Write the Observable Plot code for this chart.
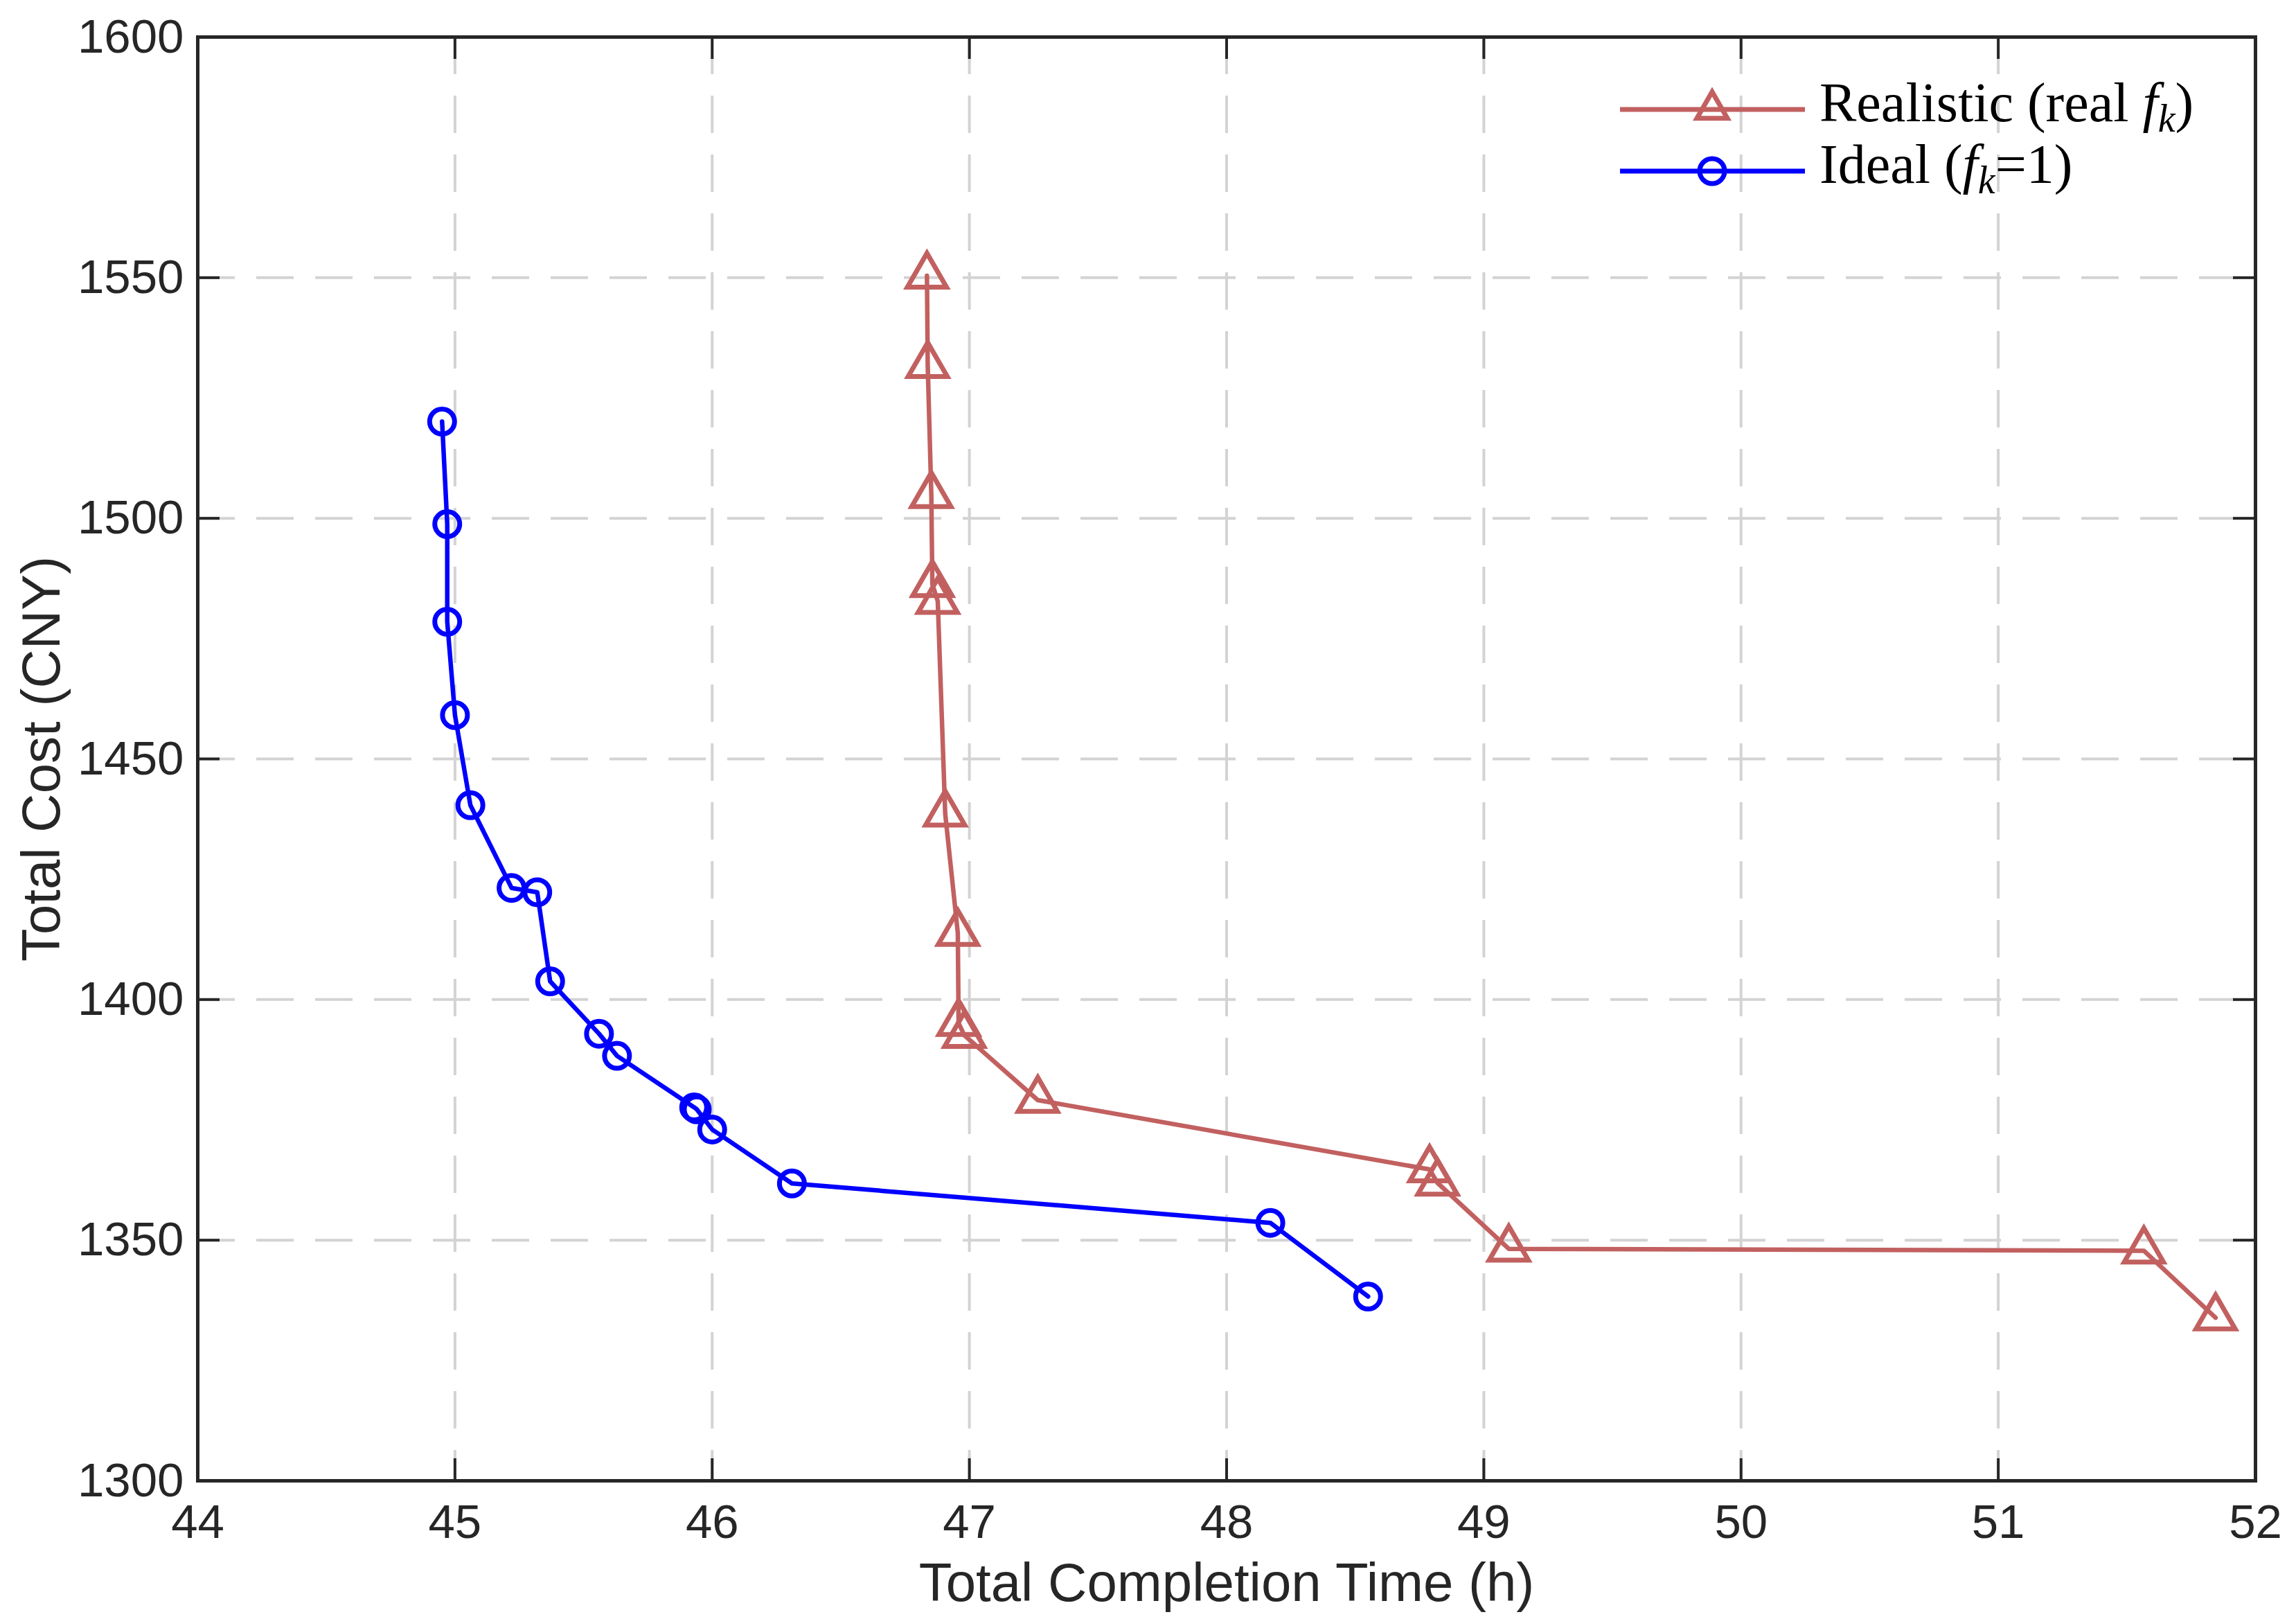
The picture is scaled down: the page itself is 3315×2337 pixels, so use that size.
<!DOCTYPE html>
<html>
<head>
<meta charset="utf-8">
<script src="https://cdn.jsdelivr.net/npm/d3@7"></script>
<script src="https://cdn.jsdelivr.net/npm/@observablehq/plot@0.6"></script>
<style>
  html, body { margin: 0; padding: 0; background: #fff; }
  #wrap { position: relative; width: 3315px; height: 2337px; background: #fff; }
  #legend { position: absolute; left: 0; top: 0; pointer-events: none; }
</style>
</head>
<body>
<div id="wrap"></div>
<script>
// ---- data ----
const realisticTime = [46.835, 46.838, 46.852, 46.856, 46.877, 46.906, 46.955, 46.958, 46.980, 47.266, 48.789, 48.820, 49.097, 51.566, 51.845];
const realisticCost = [1550.4, 1531.8, 1504.8, 1486.3, 1482.8, 1438.6, 1413.8, 1395.1, 1392.6, 1379.1, 1364.7, 1361.9, 1348.2, 1347.8, 1333.9];

const idealTime = [44.95, 44.97, 44.97, 45.00, 45.06, 45.22, 45.32, 45.37, 45.56, 45.63, 45.93, 45.94, 46.00, 46.31, 48.17, 48.55];
const idealCost = [1520.1, 1498.8, 1478.5, 1459.1, 1440.4, 1423.2, 1422.3, 1403.8, 1392.9, 1388.3, 1377.6, 1377.2, 1373.0, 1361.8, 1353.6, 1338.3];

const xTicks = [44, 45, 46, 47, 48, 49, 50, 51, 52];
const yTicks = [1300, 1350, 1400, 1450, 1500, 1550, 1600];
const xTitle = "Total Completion Time (h)";
const yTitle = "Total Cost (CNY)";

// ---- layout / style ----
const W = 3315, H = 2337;
const mL = 285, mR = 59, mT = 53, mB = 200;
const pw = W - mL - mR, ph = H - mT - mB;
const RED = "#C26060", BLUE = "#0000FF", INK = "#262626", GRID = "#d3d3d3";
const TICK = 32;

const realistic = realisticTime.map((t, i) => ({t, c: realisticCost[i]}));
const ideal = idealTime.map((t, i) => ({t, c: idealCost[i]}));

const gridStyle = {stroke: GRID, strokeOpacity: 1, strokeWidth: 4, strokeDasharray: "54,31"};
const tickStyle = {stroke: INK, strokeWidth: 4};

const chart = Plot.plot({
  width: W, height: H,
  marginLeft: mL, marginRight: mR, marginTop: mT, marginBottom: mB,
  style: {fontFamily: "'Liberation Sans', Arial, sans-serif", background: "white", color: INK},
  x: {domain: [44, 52]},
  y: {domain: [1300, 1600]},
  marks: [
    Plot.gridX({ticks: xTicks, ...gridStyle}),
    Plot.gridY({ticks: yTicks, ...gridStyle}),
    Plot.line(realistic, {x: "t", y: "c", stroke: RED, strokeWidth: 6.5, strokeLinejoin: "round"}),
    Plot.dot(realistic, {x: "t", y: "c", symbol: "triangle", r: 21, stroke: RED, strokeWidth: 7, fill: "none"}),
    Plot.line(ideal, {x: "t", y: "c", stroke: BLUE, strokeWidth: 6.5, strokeLinejoin: "round"}),
    Plot.dot(ideal, {x: "t", y: "c", symbol: "circle", r: 18, stroke: BLUE, strokeWidth: 7, fill: "none"}),
    // inward ticks on all four sides
    Plot.ruleX(xTicks, {x: d => d, insetTop: ph - TICK, ...tickStyle}),
    Plot.ruleX(xTicks, {x: d => d, insetBottom: ph - TICK, ...tickStyle}),
    Plot.ruleY(yTicks, {y: d => d, insetRight: pw - TICK, ...tickStyle}),
    Plot.ruleY(yTicks, {y: d => d, insetLeft: pw - TICK, ...tickStyle}),
    Plot.frame({stroke: INK, strokeWidth: 5}),
    Plot.axisX({ticks: xTicks, tickSize: 0, tickPadding: 33, fontSize: 69, label: null, tickFormat: d => String(d)}),
    Plot.axisY({ticks: yTicks, tickSize: 0, tickPadding: 20, fontSize: 69, label: null, tickFormat: d => String(d)}),
    Plot.text([xTitle], {frameAnchor: "bottom", dy: 2310 - (H - mB), lineAnchor: "bottom", textAnchor: "middle", fontSize: 78, fill: INK}),
    Plot.text([yTitle], {frameAnchor: "left", rotate: -90, dx: 85 - mL, lineAnchor: "bottom", textAnchor: "middle", fontSize: 78, fill: INK})
  ]
});

const wrap = document.getElementById("wrap");
wrap.appendChild(chart);

// ---- legend (inside the axes, top right, no box) ----
const legendItems = [
  {color: RED, symbol: d3.symbolTriangle2, size: Math.PI * 21 * 21, y: 158, pre: "Realistic (real ", post: ")"},
  {color: BLUE, symbol: d3.symbolCircle, size: Math.PI * 18 * 18, y: 247, pre: "Ideal (", post: "=1)"}
];
const svg = d3.select(wrap).append("svg")
  .attr("id", "legend").attr("width", W).attr("height", H);
for (const it of legendItems) {
  svg.append("line").attr("x1", 2339).attr("x2", 2606).attr("y1", it.y).attr("y2", it.y)
    .attr("stroke", it.color).attr("stroke-width", 7);
  svg.append("path").attr("d", d3.symbol(it.symbol, it.size)())
    .attr("transform", `translate(2472,${it.y})`)
    .attr("fill", "none").attr("stroke", it.color).attr("stroke-width", 7);
  const t = svg.append("text").attr("x", 2627).attr("y", it.y + 17)
    .attr("font-family", "'Liberation Serif', 'Times New Roman', serif")
    .attr("font-size", 80).attr("fill", "#000");
  t.append("tspan").text(it.pre);
  t.append("tspan").attr("font-style", "italic").text("f");
  t.append("tspan").attr("font-style", "italic").attr("font-size", 56).attr("dy", 15).text("k");
  t.append("tspan").attr("dy", -15).text(it.post);
}
</script>
</body>
</html>
